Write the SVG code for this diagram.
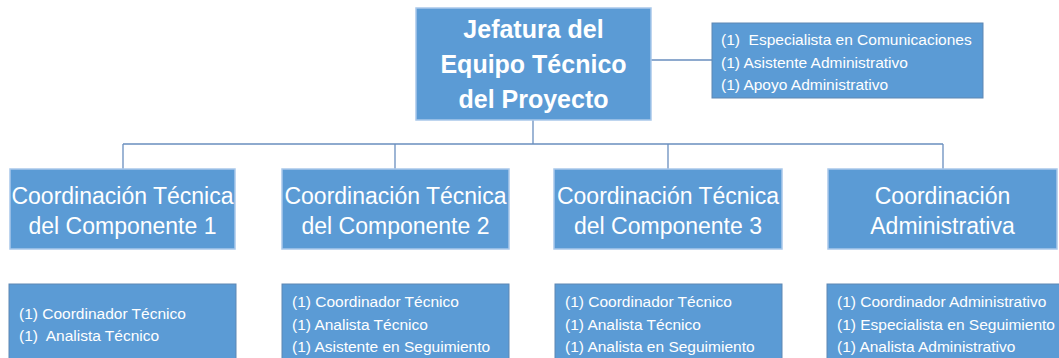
<svg xmlns="http://www.w3.org/2000/svg" width="1059" height="358" viewBox="0 0 1059 358">
<style>
.box{fill:#5B9BD5;stroke:#A9C8EA;stroke-width:1.5}
.lbox{fill:#5B9BD5;stroke:#5F87B3;stroke-width:1}
.t{font-family:"Liberation Sans",Arial,sans-serif;fill:#FFFFFF;white-space:pre}
.title{font-size:25px;font-weight:bold;text-anchor:middle}
.mid{font-size:23px;text-anchor:middle}
.sm{font-size:15.5px}
.conn{stroke:#6A8FBF;stroke-width:1.3;fill:none}
</style>
<g id="connectors">
<path class="conn" d="M533 120 V144 M123 144 H943 M123 144 V169 M395 144 V169 M668 144 V169 M943 144 V169 M651 60 H712"/>
</g>
<g id="jefatura">
<rect class="box" x="416" y="8" width="235" height="112"/>
<text class="t title" x="533.5" y="38">Jefatura del</text>
<text class="t title" x="533.5" y="73">Equipo Técnico</text>
<text class="t title" x="533.5" y="108">del Proyecto</text>
</g>
<g id="apoyo">
<rect class="lbox" x="712" y="23" width="271" height="75"/>
<text class="t sm" x="721" y="45" xml:space="preserve">(1)  Especialista en Comunicaciones</text>
<text class="t sm" x="721" y="67.5">(1) Asistente Administrativo</text>
<text class="t sm" x="721" y="90">(1) Apoyo Administrativo</text>
</g>
<g id="comp1">
<rect class="box" x="10" y="169" width="225" height="80"/>
<text class="t mid" x="122.5" y="204">Coordinación Técnica</text>
<text class="t mid" x="122.5" y="234">del Componente 1</text>
</g>
<g id="comp2">
<rect class="box" x="282" y="169" width="227" height="80"/>
<text class="t mid" x="395.5" y="204">Coordinación Técnica</text>
<text class="t mid" x="395.5" y="234">del Componente 2</text>
</g>
<g id="comp3">
<rect class="box" x="554" y="169" width="228" height="80"/>
<text class="t mid" x="668" y="204">Coordinación Técnica</text>
<text class="t mid" x="668" y="234">del Componente 3</text>
</g>
<g id="admin">
<rect class="box" x="828" y="169" width="229" height="80"/>
<text class="t mid" x="942.5" y="204">Coordinación</text>
<text class="t mid" x="942.5" y="234">Administrativa</text>
</g>
<g id="staff1">
<rect class="lbox" x="9" y="284" width="227" height="80"/>
<text class="t sm" x="19" y="318.5">(1) Coordinador Técnico</text>
<text class="t sm" x="19" y="341" xml:space="preserve">(1)  Analista Técnico</text>
</g>
<g id="staff2">
<rect class="lbox" x="282" y="284" width="227" height="80"/>
<text class="t sm" x="292" y="307">(1) Coordinador Técnico</text>
<text class="t sm" x="292" y="329.5">(1) Analista Técnico</text>
<text class="t sm" x="292" y="352">(1) Asistente en Seguimiento</text>
</g>
<g id="staff3">
<rect class="lbox" x="555" y="284" width="227" height="80"/>
<text class="t sm" x="565" y="307">(1) Coordinador Técnico</text>
<text class="t sm" x="565" y="329.5">(1) Analista Técnico</text>
<text class="t sm" x="565" y="352">(1) Analista en Seguimiento</text>
</g>
<g id="staff4">
<rect class="lbox" x="827" y="284" width="240" height="80"/>
<text class="t sm" x="837" y="307">(1) Coordinador Administrativo</text>
<text class="t sm" x="837" y="329.5">(1) Especialista en Seguimiento</text>
<text class="t sm" x="837" y="352">(1) Analista Administrativo</text>
</g>
</svg>
